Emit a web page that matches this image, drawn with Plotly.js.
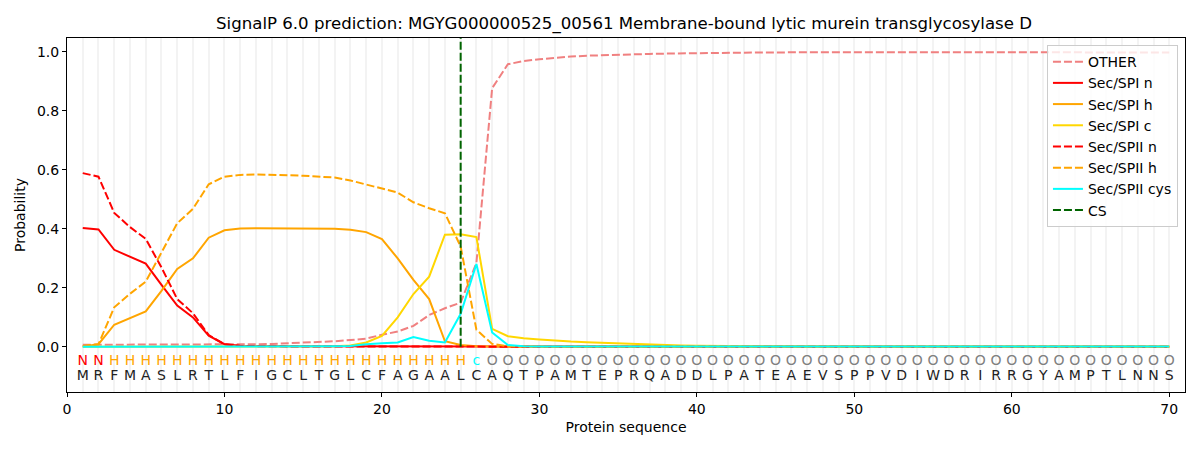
<!DOCTYPE html>
<html>
<head>
<meta charset="utf-8">
<script src="https://cdn.plot.ly/plotly-3.0.1.min.js"></script>
<style>
  html, body { margin: 0; padding: 0; background: #fff; }
  #plot { width: 1200px; height: 450px; }
</style>
</head>
<body>
<div id="plot"></div>
<script>
// sequence and per-residue region labels
var sequence = "MRFMASLRTLFIGCLTGLCFAGAALCAQTPAMTEPRQADDLPATEAEVSPPVDIWDRIRRGYAMPTLNNS";
var regions  = "NNHHHHHHHHHHHHHHHHHHHHHHHcOOOOOOOOOOOOOOOOOOOOOOOOOOOOOOOOOOOOOOOOOOOO";
var cs_pos = 25;

// probabilities, residue 1..70
var other = [0.007,0.007,0.007,0.007,0.007,0.007,0.007,0.007,0.007,0.007,
             0.008,0.009,0.010,0.012,0.014,0.016,0.019,0.023,0.028,0.041,
             0.052,0.071,0.108,0.131,0.150,0.285,0.877,0.958,0.969,0.975,
             0.980,0.984,0.987,0.989,0.991,0.992,0.993,0.994,0.995,0.996,
             0.997,0.997,0.998,0.998,0.998,0.999,0.999,0.999,0.999,0.999,
             0.999,0.999,0.999,0.998,0.998,0.998,0.998,0.998,0.997,0.997,
             0.997,0.997,0.997,0.997,0.997,0.997,0.997,0.998,0.998,0.998];
var spi_n = [0.403,0.398,0.329,0.306,0.282,0.210,0.140,0.100,0.038,0.009,
             0.004,0.003,0.002,0.002,0.002,0.002,0.002,0.002,0.002,0.002,
             0.002,0.002,0.001,0.001,0.001,0.001,0.000,0.000,0.000,0.000,
             0,0,0,0,0,0,0,0,0,0, 0,0,0,0,0,0,0,0,0,0,
             0,0,0,0,0,0,0,0,0,0, 0,0,0,0,0,0,0,0,0,0];
var spi_h = [0.001,0.009,0.075,0.097,0.120,0.190,0.264,0.300,0.370,0.395,
             0.401,0.402,0.402,0.402,0.402,0.401,0.400,0.397,0.389,0.365,
             0.300,0.227,0.162,0.019,0.006,0.002,0.001,0.000,0.000,0.000,
             0,0,0,0,0,0,0,0,0,0, 0,0,0,0,0,0,0,0,0,0,
             0,0,0,0,0,0,0,0,0,0, 0,0,0,0,0,0,0,0,0,0];
var spi_c = [0.000,0.000,0.000,0.000,0.000,0.000,0.000,0.000,0.000,0.000,
             0.000,0.000,0.000,0.001,0.001,0.001,0.002,0.005,0.015,0.037,
             0.100,0.179,0.238,0.380,0.382,0.372,0.061,0.036,0.029,0.025,
             0.021,0.018,0.016,0.014,0.011,0.009,0.007,0.006,0.005,0.004,
             0.003,0.003,0.002,0.002,0.002,0.001,0.001,0.001,0.001,0.001,
             0.001,0.001,0.001,0.001,0.001,0.001,0.001,0.001,0.001,0.001,
             0.001,0.001,0.001,0.001,0.001,0.001,0.001,0.001,0.001,0.001];
var spii_n = [0.589,0.577,0.454,0.406,0.366,0.269,0.162,0.114,0.040,0.009,
              0.003,0.002,0.001,0.001,0.001,0.001,0.001,0.001,0.001,0.001,
              0.001,0.001,0.001,0.001,0.001,0.000,0.000,0.000,0.000,0.000,
              0,0,0,0,0,0,0,0,0,0, 0,0,0,0,0,0,0,0,0,0,
              0,0,0,0,0,0,0,0,0,0, 0,0,0,0,0,0,0,0,0,0];
var spii_h = [0.003,0.009,0.134,0.180,0.221,0.320,0.419,0.468,0.551,0.577,
              0.583,0.584,0.584,0.582,0.580,0.578,0.574,0.564,0.550,0.538,
              0.523,0.490,0.470,0.453,0.340,0.058,0.010,0.002,0.001,0.000,
              0,0,0,0,0,0,0,0,0,0, 0,0,0,0,0,0,0,0,0,0,
              0,0,0,0,0,0,0,0,0,0, 0,0,0,0,0,0,0,0,0,0];
var spii_cys = [0.000,0.000,0.000,0.000,0.000,0.000,0.000,0.000,0.000,0.000,
                0.000,0.000,0.000,0.000,0.001,0.001,0.002,0.003,0.009,0.012,
                0.015,0.033,0.021,0.015,0.112,0.281,0.049,0.006,0.002,0.001,
                0.001,0.001,0.001,0.001,0.001,0.001,0.001,0.001,0.001,0.001,
                0.001,0.001,0.001,0.001,0.001,0.001,0.001,0.001,0.001,0.001,
                0.001,0.001,0.001,0.001,0.001,0.001,0.001,0.001,0.001,0.001,
                0.001,0.001,0.001,0.001,0.001,0.001,0.001,0.001,0.001,0.001];

var region_colors = { N: "red", H: "orange", c: "cyan", O: "grey" };

var pos = sequence.split("").map(function (c, i) { return i + 1; });
var dashed = "8px,3px";

function line(name, y, color, dash) {
    return {
        x: pos, y: y, name: name, type: "scatter", mode: "lines",
        line: { color: color, width: 2, dash: dash || "solid" },
        hoverinfo: "x+y+name"
    };
}

var data = [
    line("OTHER", other, "#F08080", dashed),
    line("Sec/SPI n", spi_n, "red"),
    line("Sec/SPI h", spi_h, "orange"),
    line("Sec/SPI c", spi_c, "gold"),
    line("Sec/SPII n", spii_n, "red", dashed),
    line("Sec/SPII h", spii_h, "orange", dashed),
    line("Sec/SPII cys", spii_cys, "cyan"),
    {
        x: [cs_pos, cs_pos], y: [0, 1.047], name: "CS", type: "scatter", mode: "lines",
        line: { color: "darkgreen", width: 2, dash: dashed }
    },
    {
        x: pos, y: pos.map(function () { return -0.051; }),
        text: regions.split(""), mode: "text", type: "scatter", showlegend: false,
        textfont: { family: "DejaVu Sans", size: 14,
                    color: regions.split("").map(function (r) { return region_colors[r]; }) },
        hoverinfo: "skip"
    },
    {
        x: pos, y: pos.map(function () { return -0.102; }),
        text: sequence.split(""), mode: "text", type: "scatter", showlegend: false,
        textfont: { family: "DejaVu Sans", size: 14, color: "#222" },
        hoverinfo: "skip"
    }
];

var layout = {
    width: 1200, height: 450,
    margin: { l: 67, r: 15, t: 38, b: 58 },
    paper_bgcolor: "white", plot_bgcolor: "white",
    font: { family: "DejaVu Sans", size: 14, color: "#000" },
    title: {
        text: "SignalP 6.0 prediction: MGYG000000525_00561 Membrane-bound lytic murein transglycosylase D",
        font: { size: 16.6 }, x: 0.52, xanchor: "center", y: 0.949, yanchor: "middle"
    },
    xaxis: {
        range: [0, 71], tickvals: [0, 10, 20, 30, 40, 50, 60, 70],
        ticks: "outside", ticklen: 4, tickcolor: "#000",
        showline: true, linecolor: "#000", linewidth: 1, mirror: true,
        showgrid: true, gridcolor: "#f3f3f3", gridwidth: 1.5,
        minor: { dtick: 1, tick0: 0, showgrid: true, gridcolor: "#f3f3f3", gridwidth: 1.5 },
        zeroline: false,
        title: { text: "Protein sequence", font: { size: 14 }, standoff: 6 }
    },
    yaxis: {
        range: [-0.153, 1.047], tickvals: [0, 0.2, 0.4, 0.6, 0.8, 1.0], tickformat: ".1f",
        ticks: "outside", ticklen: 4, tickcolor: "#000",
        showline: true, linecolor: "#000", linewidth: 1, mirror: true,
        showgrid: false, zeroline: false,
        title: { text: "Probability", font: { size: 14 }, standoff: 8 }
    },
    legend: {
        x: 0.9937, y: 0.98, xanchor: "right", yanchor: "top",
        bgcolor: "rgba(255,255,255,0.8)", bordercolor: "#cccccc", borderwidth: 1,
        font: { size: 14 }, tracegroupgap: 0
    },
    showlegend: true
};

Plotly.newPlot("plot", data, layout, { displayModeBar: false });
</script>
</body>
</html>
